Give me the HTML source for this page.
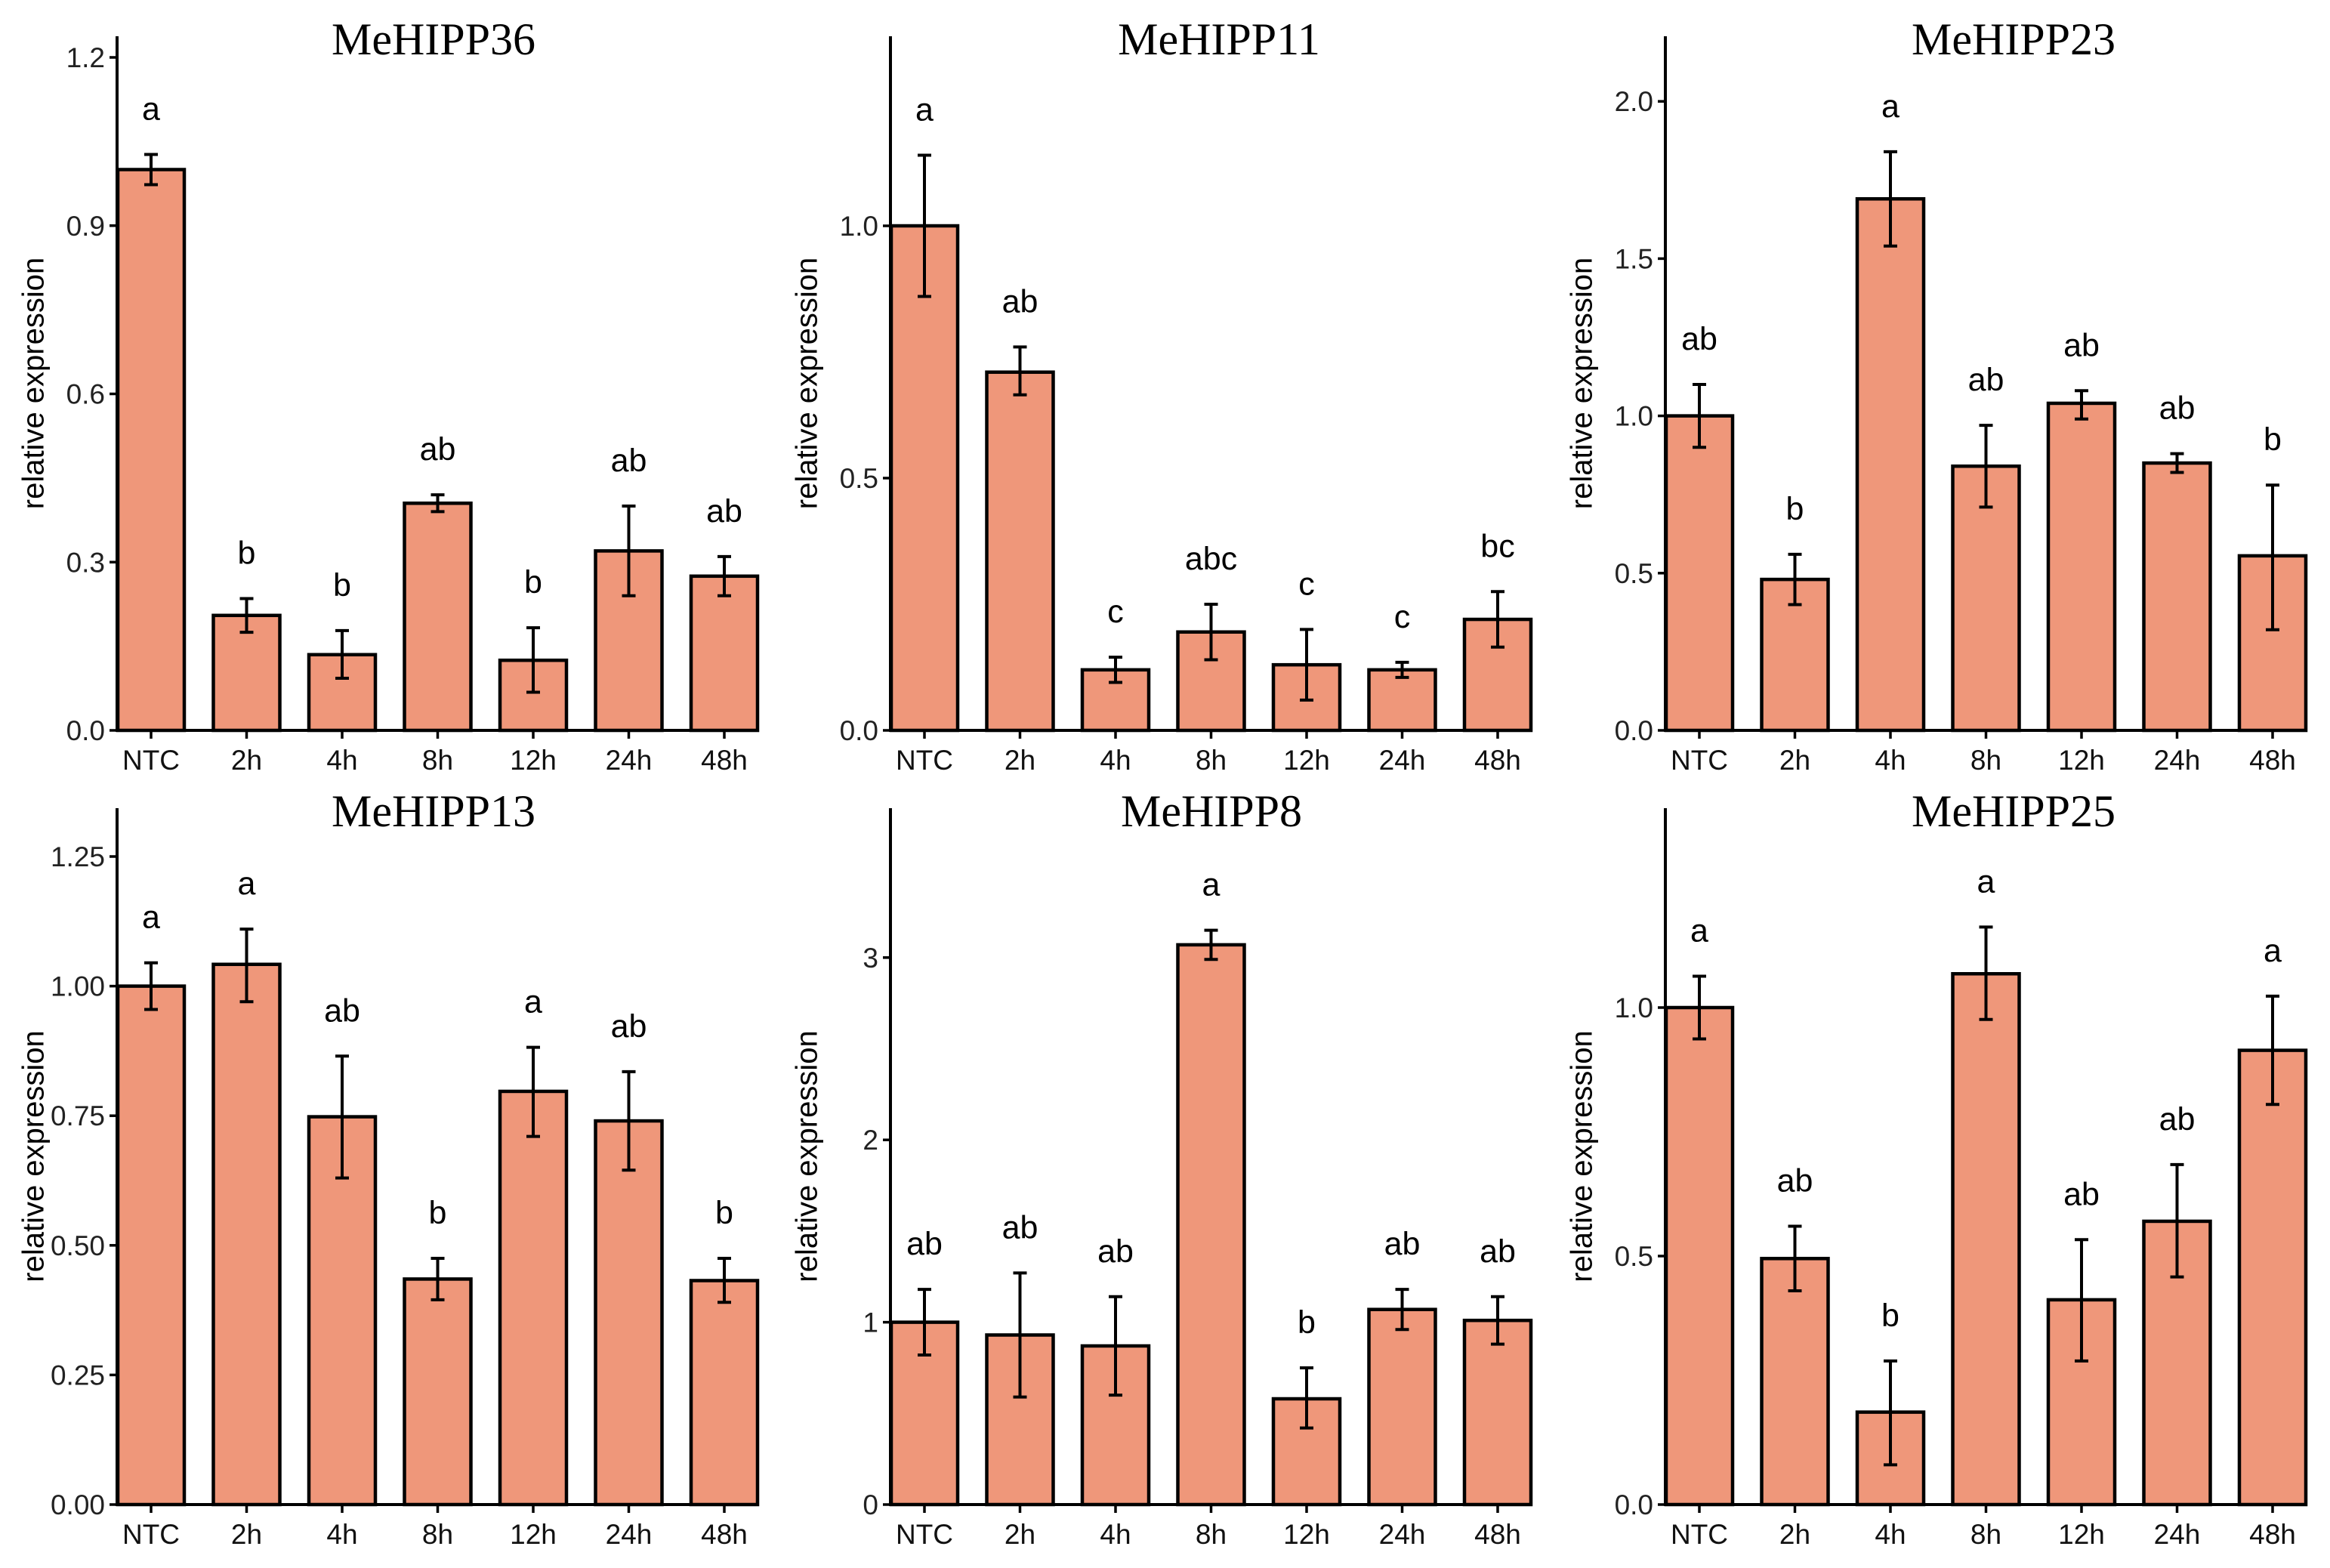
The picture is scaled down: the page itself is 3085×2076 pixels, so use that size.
<!DOCTYPE html>
<html><head><meta charset="utf-8">
<style>
html,body{margin:0;padding:0;background:#fff;}
svg{display:block;}
</style></head>
<body>
<svg id="chart" width="3085" height="2076" viewBox="0 0 3085 2076" xmlns="http://www.w3.org/2000/svg"></svg>
<script>
const categories = ["NTC","2h","4h","8h","12h","24h","48h"];
const titles = ["MeHIPP36","MeHIPP11","MeHIPP23","MeHIPP13","MeHIPP8","MeHIPP25"];
const values36 = [1.0,0.205,0.135,0.405,0.125,0.32,0.275];
const errLo36 = [0.973,0.175,0.093,0.39,0.068,0.24,0.24];
const errHi36 = [1.027,0.235,0.178,0.42,0.183,0.40,0.31];
const letters36 = ["a","b","b","ab","b","ab","ab"];
const values11 = [1.0,0.71,0.12,0.195,0.13,0.12,0.22];
const errLo11 = [0.86,0.665,0.095,0.14,0.06,0.105,0.165];
const errHi11 = [1.14,0.76,0.145,0.25,0.2,0.135,0.275];
const letters11 = ["a","ab","c","abc","c","c","bc"];
const values23 = [1.0,0.48,1.69,0.84,1.04,0.85,0.555];
const errLo23 = [0.9,0.4,1.54,0.71,0.99,0.82,0.32];
const errHi23 = [1.1,0.56,1.84,0.97,1.08,0.88,0.78];
const letters23 = ["ab","b","a","ab","ab","ab","b"];
const values13 = [1.0,1.042,0.748,0.435,0.797,0.74,0.432];
const errLo13 = [0.955,0.97,0.63,0.395,0.71,0.645,0.39];
const errHi13 = [1.045,1.11,0.865,0.475,0.882,0.835,0.475];
const letters13 = ["a","a","ab","b","a","ab","b"];
const values8 = [1.0,0.93,0.87,3.07,0.58,1.07,1.01];
const errLo8 = [0.82,0.59,0.6,2.99,0.42,0.96,0.88];
const errHi8 = [1.18,1.27,1.14,3.15,0.75,1.18,1.14];
const letters8 = ["ab","ab","ab","a","b","ab","ab"];
const values25 = [1.0,0.495,0.186,1.068,0.412,0.57,0.914];
const errLo25 = [0.937,0.43,0.08,0.976,0.289,0.458,0.805];
const errHi25 = [1.063,0.56,0.289,1.162,0.533,0.684,1.023];
const letters25 = ["a","ab","b","a","ab","ab","a"];
const ticks36 = [0,0.3,0.6,0.9,1.2];
const tickLabels36 = ["0.0","0.3","0.6","0.9","1.2"];
const ticks11 = [0,0.5,1.0];
const tickLabels11 = ["0.0","0.5","1.0"];
const ticks23 = [0,0.5,1.0,1.5,2.0];
const tickLabels23 = ["0.0","0.5","1.0","1.5","2.0"];
const ticks13 = [0,0.25,0.5,0.75,1.0,1.25];
const tickLabels13 = ["0.00","0.25","0.50","0.75","1.00","1.25"];
const ticks8 = [0,1,2,3];
const tickLabels8 = ["0","1","2","3"];
const ticks25 = [0,0.5,1.0];
const tickLabels25 = ["0.0","0.5","1.0"];
const panelData = [
  {v:values36,lo:errLo36,hi:errHi36,l:letters36,t:ticks36,tl:tickLabels36},
  {v:values11,lo:errLo11,hi:errHi11,l:letters11,t:ticks11,tl:tickLabels11},
  {v:values23,lo:errLo23,hi:errHi23,l:letters23,t:ticks23,tl:tickLabels23},
  {v:values13,lo:errLo13,hi:errHi13,l:letters13,t:ticks13,tl:tickLabels13},
  {v:values8,lo:errLo8,hi:errHi8,l:letters8,t:ticks8,tl:tickLabels8},
  {v:values25,lo:errLo25,hi:errHi25,l:letters25,t:ticks25,tl:tickLabels25}
];
const svg = document.getElementById('chart');
const NS = 'http://www.w3.org/2000/svg';
function mk(tag, attrs, parent){
  const e = document.createElementNS(NS, tag);
  for (const k in attrs) e.setAttribute(k, attrs[k]);
  parent.appendChild(e);
  return e;
}
const axisXs = [155,1179,2205];
const titleShift = [-6,10,36,-6,0,36];
const rows = [{top:48,y0:967,lab:1019},{top:1070,y0:1992,lab:2044}];
const pxPerUnit = [891/1.2, 334/0.5, 208.2/0.5, 171.6/0.25, 241.4, 658];
panelData.forEach((p,i)=>{
  const ax = axisXs[i%3], r = rows[Math.floor(i/3)];
  const xEnd = ax + 850;
  const g = mk('g',{},svg);
  
  
  const k = pxPerUnit[i];
  const y = v => r.y0 - v*k;
  const x = j => ax + 45 + j*126.5;
  p.v.forEach((v,j)=>{
    const b = mk('rect',{x:x(j)-44,y:y(v),width:88,height:r.y0-y(v),fill:'#EF977A',stroke:'#000','stroke-width':4.5},g);
    
    
    const e = mk('path',{d:`M${x(j)},${y(p.lo[j])}V${y(p.hi[j])}M${x(j)-9},${y(p.lo[j])}H${x(j)+9}M${x(j)-9},${y(p.hi[j])}H${x(j)+9}`,stroke:'#000','stroke-width':4,fill:'none'},g);
    
    
    const lt = mk('text',{x:x(j),y:y(p.hi[j])-46,'text-anchor':'middle','font-family':'Liberation Sans, sans-serif','font-size':43},g);
    lt.textContent = p.l[j];
    
    
    mk('line',{x1:x(j),x2:x(j),y1:r.y0,y2:r.y0+11,stroke:'#000','stroke-width':3.5},g);
    const xl = mk('text',{x:x(j),y:r.lab,'text-anchor':'middle','font-family':'Liberation Sans, sans-serif','font-size':37,fill:'#111'},g);
    xl.textContent = categories[j];
    
    
  });
  const axes = mk('path',{d:`M${ax},${r.top}V${r.y0}H${xEnd}`,stroke:'#000','stroke-width':4,fill:'none'},g);
  
  
  p.t.forEach((t,j)=>{
    mk('line',{x1:ax-10,x2:ax,y1:y(t),y2:y(t),stroke:'#000','stroke-width':3.5},g);
    const tl = mk('text',{x:ax-16,y:y(t)+13,'text-anchor':'end','font-family':'Liberation Sans, sans-serif','font-size':37,fill:'#222'},g);
    tl.textContent = p.tl[j];
    
    
  });
  const cy = (r.top + r.y0)/2;
  const yt = mk('text',{x:ax-108,y:cy,'text-anchor':'middle','font-family':'Liberation Sans, sans-serif','font-size':40,transform:`rotate(-90 ${ax-108} ${cy})`,'dominant-baseline':'middle'},g);
  yt.textContent = 'relative expression';
  
  
  const tt = mk('text',{x:(ax+xEnd)/2 + titleShift[i],y:r.top+24,'text-anchor':'middle','font-family':'Liberation Serif, serif','font-size':60},g);
  tt.textContent = titles[i];
  
  
});
</script>
</body></html>
